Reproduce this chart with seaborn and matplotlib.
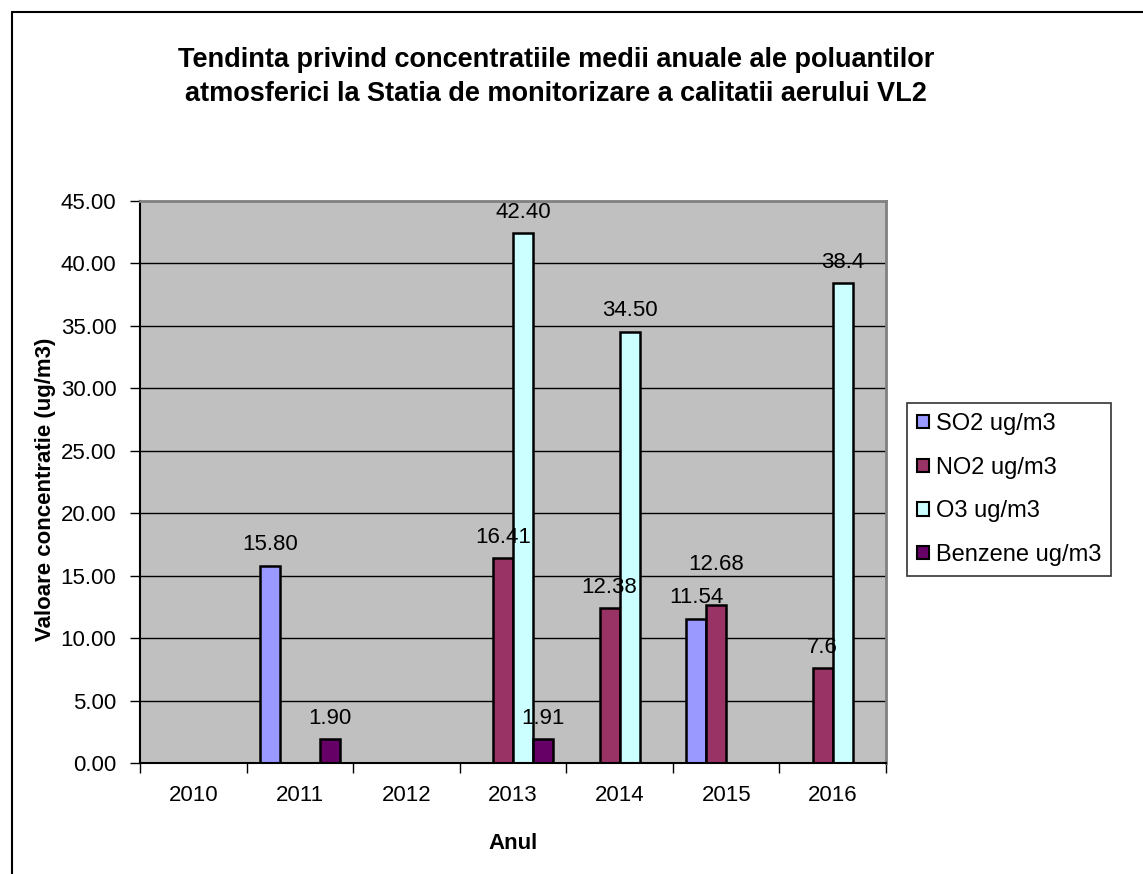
import matplotlib
matplotlib.use("Agg")
import matplotlib.pyplot as plt
from matplotlib.lines import Line2D
from matplotlib.patches import Patch
import numpy as np
import pandas as pd
import seaborn as sns

# Annual mean concentrations at station VL2 (ug/m3); None = no measurement
years = ["2010", "2011", "2012", "2013", "2014", "2015", "2016"]
series = ["SO2 ug/m3", "NO2 ug/m3", "O3 ug/m3", "Benzene ug/m3"]
so2 = [None, 15.80, None, None, None, 11.54, None]
no2 = [None, None, None, 16.41, 12.38, 12.68, 7.6]
o3 = [None, None, None, 42.40, 34.50, None, 38.4]
benzene = [None, 1.90, None, 1.91, None, None, None]

# Value labels as printed above each bar
so2_labels = [None, "15.80", None, None, None, "11.54", None]
no2_labels = [None, None, None, "16.41", "12.38", "12.68", "7.6"]
o3_labels = [None, None, None, "42.40", "34.50", None, "38.4"]
benzene_labels = [None, "1.90", None, "1.91", None, None, None]

y_ticks = [0, 5, 10, 15, 20, 25, 30, 35, 40, 45]
colors = ["#9999FF", "#993366", "#CCFFFF", "#660066"]

title = ("Tendinta privind concentratiile medii anuale ale poluantilor\n"
         "atmosferici la Statia de monitorizare a calitatii aerului VL2")

values = [so2, no2, o3, benzene]
labels = [so2_labels, no2_labels, o3_labels, benzene_labels]

rows = []
for name, vals, labs in zip(series, values, labels):
    for yr, v, lab in zip(years, vals, labs):
        if v is not None:
            rows.append({"Anul": yr, "value": v, "pollutant": name, "label": lab})
df = pd.DataFrame(rows)

sns.set_style("white")
plt.rcParams["font.family"] = ["Liberation Sans", "DejaVu Sans"]
for key in ["text.color", "axes.labelcolor", "xtick.color", "ytick.color"]:
    plt.rcParams[key] = "black"

FS = 16

fig = plt.figure(figsize=(11.43, 8.74), dpi=100)
ax = fig.add_axes([0.1225, 0.1270, 0.6527, 0.6434])
ax.set_facecolor("#C0C0C0")

# horizontal gridlines behind the bars
for t in y_ticks[1:-1]:
    ax.axhline(t, color="black", lw=1.0, zorder=0.5)

sns.barplot(data=df, x="Anul", y="value", hue="pollutant",
            order=years, hue_order=series, palette=colors, saturation=1,
            width=0.75, edgecolor="black", linewidth=1.8,
            errorbar=None, legend=False, ax=ax, zorder=2)

# value labels, one container per pollutant
extra_lift = {"12.68": 14}
for cont, name in zip(ax.containers, series):
    sub = df[df["pollutant"] == name]
    texts = ax.bar_label(cont, labels=list(sub["label"]), padding=7.5,
                         fontsize=FS, color="black", zorder=5)
    for t in texts:
        lift = extra_lift.get(t.get_text())
        if lift:
            t.xyann = (t.xyann[0], t.xyann[1] + lift)

ax.set_ylim(0, 45)
ax.set_xlim(-0.5, len(years) - 0.5)
ax.set_yticks(y_ticks)
ax.set_yticklabels([f"{t:.2f}" for t in y_ticks], fontsize=FS)
ax.tick_params(axis="y", direction="out", length=7, width=1, color="black", pad=10, left=True)
ax.tick_params(axis="x", length=0, pad=16, labelsize=FS)

# category boundary tick marks below the axis
ax.set_xticks(np.arange(-0.5, len(years), 1.0), minor=True)
ax.tick_params(axis="x", which="minor", direction="out", length=7, width=1, color="black", bottom=True)

for side in ["top", "right"]:
    ax.spines[side].set_color("#808080")
    ax.spines[side].set_linewidth(2)
ax.spines["left"].set_color("black")
ax.spines["left"].set_linewidth(1.5)
ax.spines["bottom"].set_color("black")
ax.spines["bottom"].set_linewidth(1.5)

ax.set_xlabel("Anul", fontsize=FS, fontweight="bold")
ax.set_ylabel("Valoare concentratie (ug/m3)", fontsize=FS, fontweight="bold")
ax.xaxis.set_label_coords(0.5, -0.124)
ax.yaxis.set_label_coords(-0.112, 0.487)

fig.text(0.4865, 1 - 47 / 874, title, ha="center", va="top", fontsize=19.5,
         fontweight="bold", linespacing=1.38)

handles = [Patch(facecolor=c, edgecolor="black", linewidth=1.5) for c in colors]
leg = fig.legend(handles, series, loc="upper left",
                 bbox_to_anchor=(907 / 1143, 1 - 403 / 874),
                 frameon=True, fancybox=False, edgecolor="black",
                 fontsize=17, handlelength=0.5, handleheight=0.5,
                 handletextpad=0.3, labelspacing=0.92, borderpad=0.42,
                 borderaxespad=0)
leg.get_frame().set_linewidth(1.2)

# chart area border (left and top edges)
fig.add_artist(Line2D([12 / 1143, 12 / 1143], [0, 1 - 12 / 874],
                      transform=fig.transFigure, color="black", lw=1.5))
fig.add_artist(Line2D([12 / 1143, 1], [1 - 12 / 874, 1 - 12 / 874],
                      transform=fig.transFigure, color="black", lw=1.5))

fig.savefig("out.png", dpi=100, facecolor="white")
